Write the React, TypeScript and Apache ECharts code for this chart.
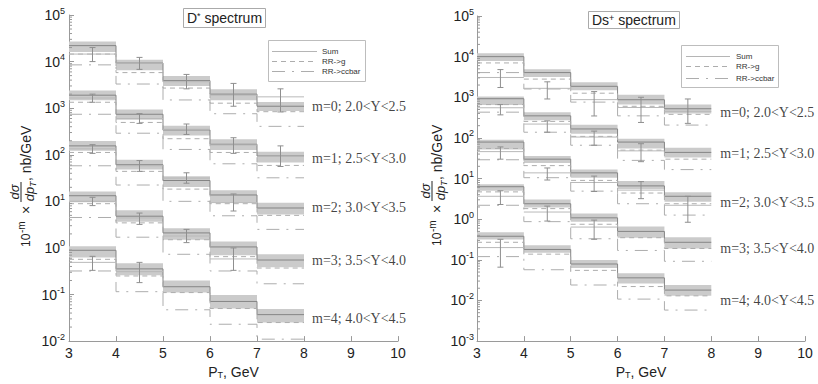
import React, { useEffect, useRef } from 'react';
import * as echarts from 'echarts';

const ptEdges = [3, 4, 5, 6, 7, 8];
const ptCenters = [3.5, 4.5, 5.5, 6.5, 7.5];
const mLabels = ['m=0; 2.0<Y<2.5', 'm=1; 2.5<Y<3.0', 'm=2; 3.0<Y<3.5', 'm=3; 3.5<Y<4.0', 'm=4; 4.0<Y<4.5'];
const legendNames = ['Sum', 'RR->g', 'RR->ccbar'];

// ---- D* spectrum (left panel), rows = m=0..4, columns = pT bins 3-4 ... 7-8
const dstarSum = [
  [2.2e4, 9.3e3, 3.9e3, 2.0e3, 1.1e3],
  [1.9e3, 740, 341, 168, 94],
  [155, 61, 28, 13.7, 7.2],
  [13.2, 4.8, 2.1, 1.05, 0.55],
  [0.89, 0.355, 0.147, 0.071, 0.037],
];
const dstarBandLo = [
  [1.6e4, 6.5e3, 3.0e3, 1.48e3, 870],
  [1.48e3, 563, 260, 126, 68],
  [122, 48, 20.4, 9.6, 5.2],
  [9.6, 3.65, 1.5, 0.7, 0.385],
  [0.62, 0.26, 0.11, 0.05, 0.025],
];
const dstarBandHi = [
  [2.7e4, 1.09e4, 4.9e3, 2.55e3, 1.35e3],
  [2.4e3, 933, 422, 214, 116],
  [198, 78, 34.7, 17.4, 9.3],
  [16.3, 6.4, 2.65, 1.37, 0.73],
  [1.09, 0.47, 0.2, 0.098, 0.049],
];
const dstarG = [
  [1.45e4, 5.8e3, 2.7e3, 1.28e3, 840],
  [1.34e3, 494, 221, 112, 59],
  [112, 44, 18.3, 8.9, 5.0],
  [8.9, 3.45, 1.5, 0.65, 0.37],
  [0.57, 0.25, 0.11, 0.05, 0.025],
];
const dstarCC = [
  [8.5e3, 3.3e3, 1.5e3, 760, 407],
  [740, 290, 130, 64, 32],
  [58, 22.4, 10, 4.9, 2.5],
  [4.5, 1.7, 0.73, 0.32, 0.17],
  [0.32, 0.115, 0.047, 0.023, 0.011],
];
const dstarData = [
  [1.45e4, 9.2e3, 3.7e3, 1.9e3, 1.75e3],
  [1.65e3, 600, 352, 162, 92],
  [134, 58, 31.6, 9.4, null],
  [10, 4.4, 1.8, 0.58, null],
  [0.49, 0.31, null, null, null],
];
const dstarErrHi = [
  [2.0e4, 1.23e4, 5.3e3, 3.4e3, 2.6e3],
  [2.0e3, 763, 457, 232, 155],
  [165, 75, 41, 14.4, null],
  [12.2, 5.6, 2.5, 1.0, null],
  [0.66, 0.49, null, null, null],
];
const dstarErrLo = [
  [1.0e4, 6.8e3, 2.6e3, 1.1e3, 830],
  [1.34e3, 471, 273, 107, 56],
  [107, 44, 24.5, 6.2, null],
  [8.1, 3.2, 1.3, 0.33, null],
  [0.33, 0.18, null, null, null],
];
const dstarLabelAt = [1.1e3, 84, 7.2, 0.55, 0.031];

// ---- Ds+ spectrum (right panel)
const dsSum = [
  [1.0e4, 4.05e3, 1.86e3, 870, 522],
  [922, 349, 166, 79, 44],
  [79, 30, 13.8, 6.6, 3.66],
  [6.3, 2.4, 1.08, 0.5, 0.27],
  [0.38, 0.18, 0.079, 0.036, 0.018],
];
const dsBandLo = [
  [7.85e3, 3.17e3, 1.49e3, 660, 396],
  [641, 273, 126, 55, 33],
  [52, 24, 10.5, 5.5, 2.7],
  [5.0, 1.93, 0.87, 0.35, 0.19],
  [0.316, 0.15, 0.063, 0.026, 0.013],
];
const dsBandHi = [
  [1.22e4, 4.9e3, 2.33e3, 1.16e3, 660],
  [1.04e3, 430, 212, 95.5, 57],
  [90.6, 36, 16.6, 8.7, 4.6],
  [7.2, 3.05, 1.38, 0.66, 0.36],
  [0.48, 0.23, 0.099, 0.047, 0.024],
];
const dsG = [
  [7.0e3, 2.8e3, 1.26e3, 600, 380],
  [660, 255, 109, 50, 30],
  [55, 20.8, 9.0, 4.4, 2.4],
  [4.7, 1.82, 0.75, 0.35, 0.19],
  [0.27, 0.138, 0.055, 0.022, 0.013],
];
const dsCC = [
  [4.05e3, 1.6e3, 760, 349, 207],
  [430, 138, 66, 28, 16.6],
  [29, 10.5, 4.9, 2.4, 1.26],
  [2.2, 0.87, 0.33, 0.17, 0.092],
  [0.12, 0.057, 0.024, 0.0108, 0.0058],
];
const dsData = [
  [3.07e3, 1.66e3, 875, 560, 450],
  [552, 219, 105, 48, null],
  [46, 13.8, 8, 5.2, 2.2],
  [3.66, 1.5, 0.64, null, null],
  [0.2, null, null, null, null],
];
const dsErrHi = [
  [4.8e3, 2.4e3, 1.38e3, 1.0e3, 908],
  [660, 263, 147, 72, null],
  [60, 18.2, 11.5, 8.4, 3.66],
  [5.0, 2.1, 0.95, null, null],
  [0.32, null, null, null, null],
];
const dsErrLo = [
  [1.74e3, 908, 347, 240, 228],
  [369, 138, 66, 26, null],
  [30, 9.2, 4.8, 3.2, 0.84],
  [2.3, 0.9, 0.32, null, null],
  [0.066, null, null, null, null],
];
const dsLabelAt = [419, 41.7, 2.54, 0.19, 0.01];

const SANS = 'Liberation Sans, Arial, Helvetica, sans-serif';
const SERIF = 'Liberation Serif, Times New Roman, serif';
const SUM_COLOR = '#858585';
const LINE_COLOR = '#adadad';
const G_DASH = [5, 4];
const CC_DASH = [13, 7, 2, 7];

function minorTicks(lowExp: number, highExp: number) {
  const out: number[][] = [];
  for (let k = lowExp; k < highExp; k++) {
    for (let j = 2; j <= 9; j++) out.push([3, j * Math.pow(10, k)]);
  }
  return out;
}

function stepData(vals: number[]) {
  const d = vals.map((v, i) => [ptEdges[i], v]);
  d.push([ptEdges[5], vals[4]]);
  return d;
}

function buildPanel(g: number, p: any) {
  const series: any[] = [];
  const bands: number[][] = [];
  const points: number[][] = [];
  for (let m = 0; m < 5; m++) {
    for (let b = 0; b < 5; b++) {
      bands.push([ptEdges[b], ptEdges[b + 1], p.lo[m][b], p.hi[m][b]]);
      if (p.data[m][b] != null) {
        points.push([ptEdges[b], ptEdges[b + 1], ptCenters[b], p.data[m][b], p.errLo[m][b], p.errHi[m][b]]);
      }
    }
  }
  series.push({
    type: 'custom', xAxisIndex: g, yAxisIndex: g, z: 1, silent: true,
    encode: { x: [0, 1], y: [2, 3] },
    data: bands,
    renderItem: (params: any, api: any) => {
      const a = api.coord([api.value(0), api.value(3)]);
      const c = api.coord([api.value(1), api.value(2)]);
      return { type: 'rect', shape: { x: a[0], y: a[1], width: c[0] - a[0], height: c[1] - a[1] }, style: { fill: '#cbcbcb' } };
    },
  });
  for (let m = 0; m < 5; m++) {
    series.push({
      name: 'Sum', type: 'line', xAxisIndex: g, yAxisIndex: g, step: 'end', symbol: 'none', z: 3,
      data: stepData(p.sum[m]), lineStyle: { color: SUM_COLOR, width: 1 }, itemStyle: { color: SUM_COLOR },
    });
    series.push({
      name: 'RR->g', type: 'line', xAxisIndex: g, yAxisIndex: g, step: 'end', symbol: 'none', z: 3,
      data: stepData(p.g[m]), lineStyle: { color: LINE_COLOR, width: 1, type: G_DASH }, itemStyle: { color: LINE_COLOR },
    });
    series.push({
      name: 'RR->ccbar', type: 'line', xAxisIndex: g, yAxisIndex: g, step: 'end', symbol: 'none', z: 3,
      data: stepData(p.cc[m]), lineStyle: { color: LINE_COLOR, width: 1, type: CC_DASH }, itemStyle: { color: LINE_COLOR },
    });
  }
  series.push({
    type: 'custom', xAxisIndex: g, yAxisIndex: g, z: 4, silent: true,
    encode: { x: [0, 1, 2], y: [3, 4, 5] },
    data: points,
    renderItem: (params: any, api: any) => {
      const l = api.coord([api.value(0), api.value(3)]);
      const r = api.coord([api.value(1), api.value(3)]);
      const t = api.coord([api.value(2), api.value(5)]);
      const bt = api.coord([api.value(2), api.value(4)]);
      const st = { stroke: '#b9b9b9', lineWidth: 1 };
      const se = { stroke: '#8f8f8f', lineWidth: 1 };
      return {
        type: 'group', children: [
          { type: 'line', shape: { x1: l[0], y1: l[1], x2: r[0], y2: r[1] }, style: st },
          { type: 'line', shape: { x1: t[0], y1: t[1], x2: bt[0], y2: bt[1] }, style: se },
          { type: 'line', shape: { x1: t[0] - 3, y1: t[1], x2: t[0] + 3, y2: t[1] }, style: se },
          { type: 'line', shape: { x1: bt[0] - 3, y1: bt[1], x2: bt[0] + 3, y2: bt[1] }, style: se },
        ],
      };
    },
  });
  series.push({
    type: 'custom', xAxisIndex: g, yAxisIndex: g, z: 5, silent: true,
    encode: { x: 0, y: 1 },
    data: p.minor,
    renderItem: (params: any, api: any) => {
      const a = api.coord([api.value(0), api.value(1)]);
      return { type: 'line', shape: { x1: a[0], y1: a[1], x2: a[0] + 3, y2: a[1] }, style: { stroke: '#999', lineWidth: 1 } };
    },
  });
  series.push({
    type: 'scatter', xAxisIndex: g, yAxisIndex: g, z: 6, silent: true, symbolSize: 0,
    data: p.labelAt.map((v: number) => [8, v]),
    label: {
      show: true, position: 'right', distance: p.labelGap, color: '#111', fontFamily: SERIF, fontSize: 14,
      formatter: (q: any) => mLabels[q.dataIndex],
    },
  });
  return series;
}

function yTitle(x0: number, y0: number) {
  const base = { fill: '#222', fontFamily: SANS, verticalAlign: 'middle', align: 'left' };
  return {
    type: 'group', x: x0, y: y0, rotation: Math.PI / 2, silent: true,
    children: [
      { type: 'text', x: 0, y: -5, style: { ...base, text: '10', fontSize: 12 } },
      { type: 'text', x: 14, y: -10, style: { ...base, text: '-m', fontSize: 10 } },
      { type: 'text', x: 33, y: -5, style: { ...base, text: '×', fontSize: 14 } },
      { type: 'line', shape: { x1: 45, y1: -10, x2: 65, y2: -10 }, style: { stroke: '#222', lineWidth: 1 } },
      { type: 'text', x: 55, y: -17, style: { ...base, align: 'center', text: 'dσ', fontSize: 13, fontStyle: 'italic' } },
      { type: 'text', x: 53, y: -2, style: { ...base, align: 'center', text: 'dp', fontSize: 13, fontStyle: 'italic' } },
      { type: 'text', x: 60, y: 2, style: { ...base, text: 'T', fontSize: 9, fontStyle: 'italic' } },
      { type: 'text', x: 66, y: -5, style: { ...base, text: ', nb/GeV', fontSize: 14 } },
    ],
  };
}

function legendBox(x: number, y: number, w: number, h: number, rows: number[], lineX0: number, lineX1: number, textX: number) {
  const styles = [
    { stroke: '#b5b5b5', lineWidth: 1 },
    { stroke: LINE_COLOR, lineWidth: 1, lineDash: G_DASH },
    { stroke: LINE_COLOR, lineWidth: 1, lineDash: CC_DASH },
  ];
  const children: any[] = [
    { type: 'rect', shape: { x, y, width: w, height: h }, style: { fill: '#fff', stroke: '#bdbdbd', lineWidth: 1 } },
  ];
  legendNames.forEach((name, i) => {
    children.push({ type: 'line', shape: { x1: lineX0, y1: rows[i], x2: lineX1, y2: rows[i] }, style: styles[i] });
    children.push({ type: 'text', x: textX, y: rows[i], style: { text: name, fontSize: 8, fill: '#333', fontFamily: SANS, verticalAlign: 'middle', align: 'left' } });
  });
  return { type: 'group', z: 20, silent: true, children };
}

export default function App() {
  const ref = useRef<HTMLDivElement>(null);
  useEffect(() => {
    document.body.style.margin = '0';
    const chart = echarts.init(ref.current!, null, { renderer: 'svg' });
    const axisColor = '#9a9a9a';
    const xAxis = (g: number) => ({
      type: 'value', gridIndex: g, min: 3, max: 10, interval: 1,
      axisLine: { show: true, lineStyle: { color: axisColor } },
      axisTick: { show: true, inside: true, length: 5, lineStyle: { color: axisColor } },
      axisLabel: { fontSize: 14, color: '#222', fontFamily: SANS, margin: 5 },
      splitLine: { show: false },
      name: '{a|P}{t|T}{a|, GeV}', nameLocation: 'middle', nameGap: 18,
      nameTextStyle: { rich: { a: { fontSize: 14, color: '#222', fontFamily: SANS }, t: { fontSize: 9, color: '#222', fontFamily: SANS, verticalAlign: 'bottom' } } },
    });
    const yAxis = (g: number, min: number, split: number, margin: number) => ({
      type: 'log', logBase: 10, gridIndex: g, min, max: 1e5, splitNumber: split,
      axisLine: { show: true, lineStyle: { color: axisColor } },
      axisTick: { show: true, inside: true, length: 5, lineStyle: { color: axisColor } },
      splitLine: { show: false },
      axisLabel: {
        margin,
        formatter: (v: number) => `{b|10}{s|${Math.round(Math.log10(v))}}`,
        rich: {
          b: { fontSize: 14, color: '#222', fontFamily: SANS, lineHeight: 18 },
          s: { fontSize: 9, color: '#222', fontFamily: SANS, verticalAlign: 'top' },
        },
      },
    });
    const titleRich = {
      a: { fontSize: 14, color: '#222', fontFamily: SANS, fontWeight: 'normal' },
      s: { fontSize: 9, color: '#222', fontFamily: SANS, fontWeight: 'normal', verticalAlign: 'top' },
    };
    const left = buildPanel(0, {
      sum: dstarSum, lo: dstarBandLo, hi: dstarBandHi, g: dstarG, cc: dstarCC,
      data: dstarData, errLo: dstarErrLo, errHi: dstarErrHi, labelAt: dstarLabelAt, labelGap: 8,
      minor: minorTicks(-2, 5),
    });
    const right = buildPanel(1, {
      sum: dsSum, lo: dsBandLo, hi: dsBandHi, g: dsG, cc: dsCC,
      data: dsData, errLo: dsErrLo, errHi: dsErrHi, labelAt: dsLabelAt, labelGap: 9,
      minor: minorTicks(-3, 5),
    });
    chart.setOption({
      animation: false,
      textStyle: { fontFamily: SANS },
      title: [
        { text: '{a|D}{s|*}{a| spectrum}', left: 183, top: 8, padding: [3, 4], borderColor: '#aaa', borderWidth: 1, textStyle: { fontWeight: 'normal', rich: titleRich } },
        { text: '{a|Ds}{s|+}{a| spectrum}', left: 588, top: 11, padding: [2, 4], borderColor: '#aaa', borderWidth: 1, textStyle: { fontWeight: 'normal', rich: titleRich } },
      ],
      grid: [
        { left: 69, top: 15, width: 329, height: 334, containLabel: false },
        { left: 477, top: 16, width: 328, height: 333, containLabel: false },
      ],
      xAxis: [xAxis(0), xAxis(1)],
      yAxis: [yAxis(0, 0.01, 7, 4), yAxis(1, 0.001, 8, 3)],
      graphic: [
        yTitle(31, 247),
        yTitle(442, 246),
        legendBox(268.5, 40.5, 97, 41, [51.5, 61.5, 71.5], 272, 317, 322),
        legendBox(681.5, 45.5, 97, 42, [56.5, 66.5, 78.5], 686, 730, 736),
      ],
      series: [...left, ...right],
    });
    return () => chart.dispose();
  }, []);
  return <div ref={ref} style={{ width: 818, height: 384 }} />;
}
